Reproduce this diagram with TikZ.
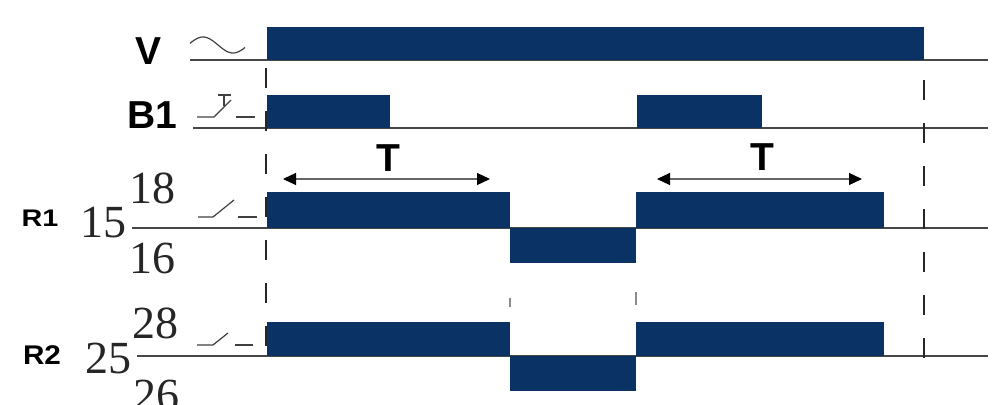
\documentclass[tikz,border=0pt]{standalone}
\usepackage{fontspec}
\setmainfont{Liberation Serif}
\setsansfont{Liberation Sans}
\usetikzlibrary{arrows.meta}
\definecolor{navy}{RGB}{10,50,100}
\definecolor{basegray}{RGB}{70,70,70}
\begin{document}
\begin{tikzpicture}[x=1pt,y=-1pt,
  bar/.style={fill=navy,draw=none},
  baseln/.style={draw=basegray,line width=1.3pt},
  guide/.style={draw=black!85,line width=1.3pt,dash pattern=on 20pt off 23pt},
  faint/.style={draw=black!45,line width=1.3pt},
  biglabel/.style={font=\sffamily\bfseries\fontsize{39}{39}\selectfont,inner sep=0pt},
  rlabel/.style={font=\sffamily\bfseries\fontsize{24}{24}\selectfont,inner sep=0pt,xscale=1.2},
  rlabelb/.style={font=\sffamily\bfseries\fontsize{27}{27}\selectfont,inner sep=0pt,xscale=1.1},
  pinnum/.style={font=\fontsize{46}{46}\selectfont,inner sep=0pt,text=black!85},
  sym/.style={draw=black!75,line width=1.2pt},
  tarrow/.style={draw=black!60,line width=1.2pt,
    {Triangle[length=13pt,width=12pt,color=black]}-{Triangle[length=13pt,width=12pt,color=black]}}
]
\useasboundingbox (0,0) rectangle (995,404);

% baselines
\draw[baseln] (190,60) -- (988,60);
\draw[baseln] (193,128) -- (988,128);
\draw[baseln] (132,228) -- (988,228);
\draw[baseln] (137,356) -- (988,356);

% guides
\draw[guide] (266,68) -- (266,360);
\draw[guide] (924,80) -- (924,360);
\draw[faint] (510,298) -- (510,307);
\draw[faint] (636,292) -- (636,305);

% bars
\fill[bar] (267,27) rectangle (924,60);
\fill[bar] (267,95) rectangle (390,128);
\fill[bar] (637,95) rectangle (762,128);
\fill[bar] (267,192) rectangle (510,228);
\fill[bar] (510,228) rectangle (636,263);
\fill[bar] (636,192) rectangle (884,228);
\fill[bar] (267,322) rectangle (510,356);
\fill[bar] (510,356) rectangle (636,391);
\fill[bar] (636,322) rectangle (884,356);

% labels
\node[biglabel] (lv) at (149,51) {V};
\node[biglabel] (lb1) at (152,115) {B1};
\node[rlabel] (lr1) at (40,218) {R1};
\node[rlabelb] (lr2) at (42,355) {R2};
\node[pinnum] (n18) at (152,188) {18};
\node[pinnum] (n15) at (103,223) {15};
\node[pinnum] (n16) at (152,258) {16};
\node[pinnum] (n28) at (155,323) {28};
\node[pinnum] (n25) at (108,358) {25};
\node[pinnum] (n26) at (156,395) {26};
\node[biglabel] (t1) at (388,158) {T};
\node[biglabel] (t2) at (762,157) {T};

% T arrows
\coordinate (a1) at (283,179);
\coordinate (b1) at (490,179);
\coordinate (a2) at (657,179);
\coordinate (b2) at (862,179);
\draw[tarrow] (a1) -- (b1);
\draw[tarrow] (a2) -- (b2);

% symbols
\draw[sym] plot[domain=12:342,samples=50,smooth] ({190+(\x-12)/6},{45-8*sin(\x)});
\draw[sym] (197,117) -- (214,117) -- (231,100);
\draw[sym] (218,95) -- (231,95) (224,95) -- (224,106);
\draw[sym] (236,117) -- (255,117);
\draw[sym] (198,217) -- (213,217) -- (234,200);
\draw[sym] (238,217) -- (257,217);
\draw[sym] (197,345) -- (213,345) -- (228,333);
\draw[sym] (235,345) -- (253,345);
\end{tikzpicture}
\end{document}
